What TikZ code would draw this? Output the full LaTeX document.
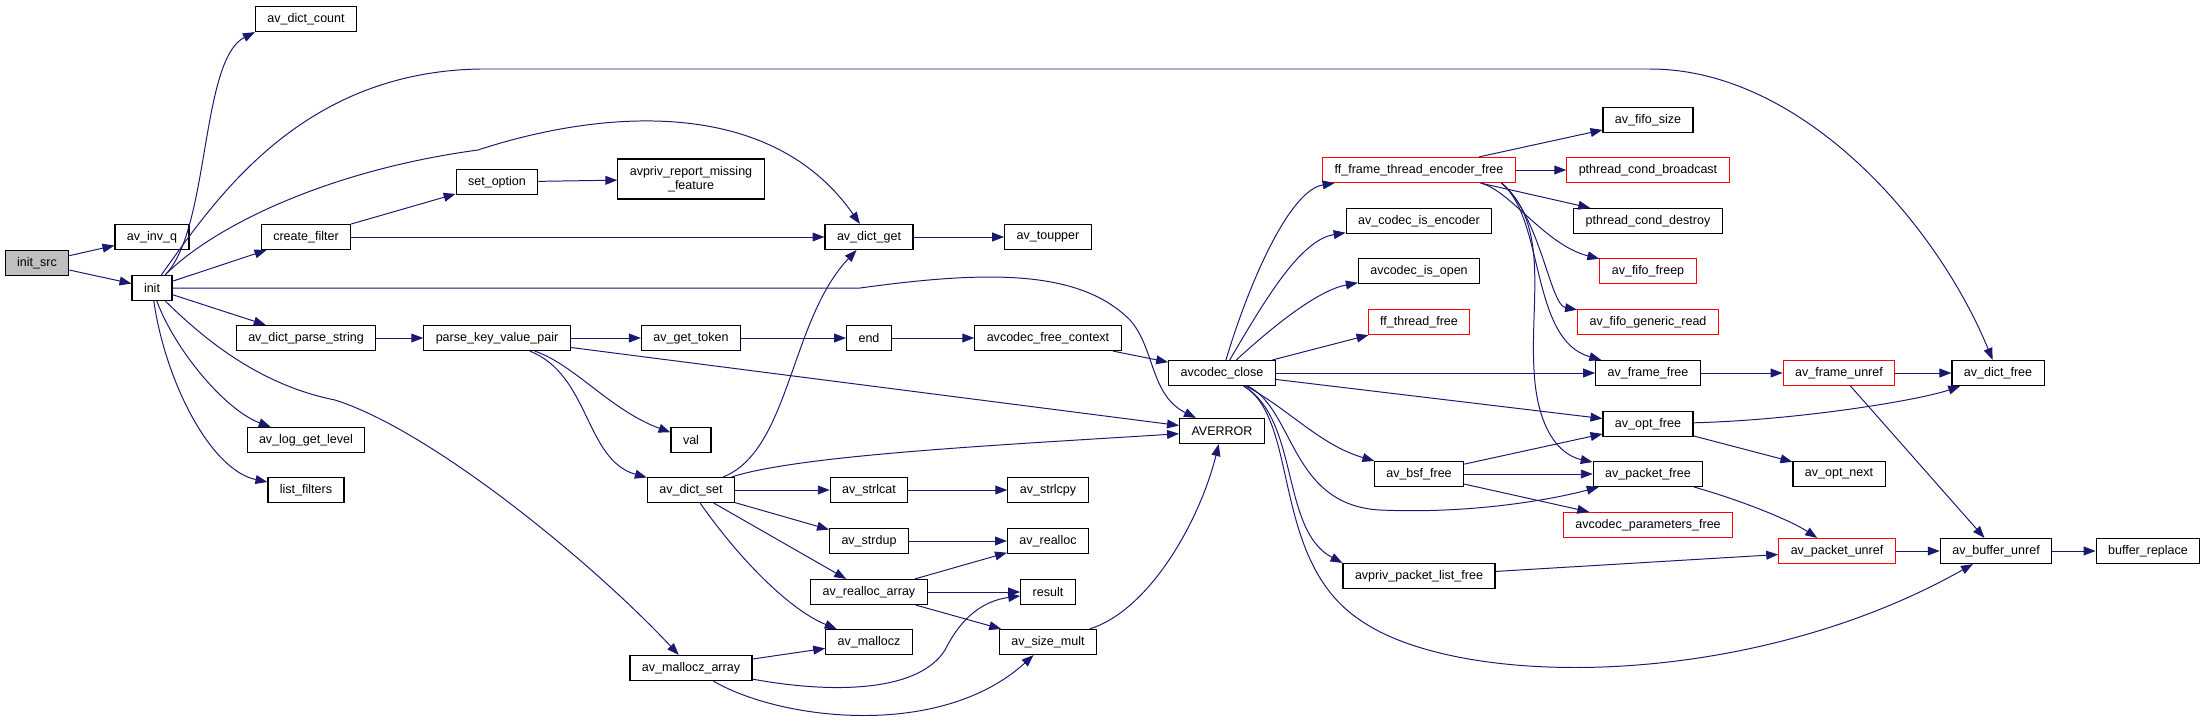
\documentclass[tikz,border=0pt]{standalone}
\usepackage{fontspec}
\setmainfont{Liberation Sans}
\usepackage{tikz}
\usetikzlibrary{arrows.meta}
\definecolor{edgeblue}{HTML}{191970}
\definecolor{callred}{HTML}{FF0000}
\definecolor{rootgrey}{HTML}{BFBFBF}
\newcommand{\callfont}{\fontsize{8.9}{9.8}\selectfont}
\tikzset{
  fn/.style={rectangle, draw=#1, fill=white, line width=0.8pt, align=center,
             inner xsep=8.5pt, inner ysep=0pt, minimum height=17.8pt, font=\callfont},
  fn/.default=black,
  root/.style={fn, fill=rootgrey},
  ar/.style={-{Triangle[length=8.5pt,width=6.3pt]}, line width=0.7pt, color=edgeblue},
}
\begin{document}
\begin{tikzpicture}[x=0.025cm, y=-0.025cm]
  \useasboundingbox (0,0) rectangle (2205,726);

  \node[root] (src) at (37,263) {init\_src};
  \node[fn] (inv) at (152,237) {av\_inv\_q};
  \node[fn] (init) at (152,288) {init};
  \node[fn] (cnt) at (306,19) {av\_dict\_count};
  \node[fn] (cf) at (306,237) {create\_filter};
  \node[fn] (dps) at (306,338) {av\_dict\_parse\_string};
  \node[fn] (llv) at (306,440) {av\_log\_get\_level};
  \node[fn] (lf) at (306,490) {list\_filters};
  \node[fn] (setopt) at (497,182) {set\_option};
  \node[fn] (pkv) at (497,338) {parse\_key\_value\_pair};
  \node[fn, minimum height=28.5pt] (arep) at (691,179) {avpriv\_report\_missing\\\_feature};
  \node[fn] (gtok) at (691,338) {av\_get\_token};
  \node[fn] (val) at (691,440) {val};
  \node[fn] (dset) at (691,490) {av\_dict\_set};
  \node[fn] (mza) at (691,668) {av\_mallocz\_array};
  \node[fn] (dget) at (869,237) {av\_dict\_get};
  \node[fn] (endn) at (869,338) {end};
  \node[fn] (scat) at (869,490) {av\_strlcat};
  \node[fn] (sdup) at (869,541) {av\_strdup};
  \node[fn] (rarr) at (869,592) {av\_realloc\_array};
  \node[fn] (mz) at (869,642) {av\_mallocz};
  \node[fn] (toup) at (1048,237) {av\_toupper};
  \node[fn] (afc) at (1048,338) {avcodec\_free\_context};
  \node[fn] (scpy) at (1048,490) {av\_strlcpy};
  \node[fn] (real) at (1048,541) {av\_realloc};
  \node[fn] (res) at (1048,592) {result};
  \node[fn] (smul) at (1048,642) {av\_size\_mult};
  \node[fn] (acl) at (1222,373) {avcodec\_close};
  \node[fn] (err) at (1222,431) {AVERROR};
  \node[fn=callred] (ffte) at (1419,170) {ff\_frame\_thread\_encoder\_free};
  \node[fn] (cie) at (1419,221) {av\_codec\_is\_encoder};
  \node[fn] (cio) at (1419,271) {avcodec\_is\_open};
  \node[fn=callred] (tfree) at (1419,322) {ff\_thread\_free};
  \node[fn] (bsf) at (1419,474) {av\_bsf\_free};
  \node[fn] (plf) at (1419,576) {avpriv\_packet\_list\_free};
  \node[fn] (fsize) at (1648,120) {av\_fifo\_size};
  \node[fn=callred] (pcb) at (1648,170) {pthread\_cond\_broadcast};
  \node[fn] (pcd) at (1648,221) {pthread\_cond\_destroy};
  \node[fn=callred] (ffreep) at (1648,271) {av\_fifo\_freep};
  \node[fn=callred] (fgr) at (1648,322) {av\_fifo\_generic\_read};
  \node[fn] (frfree) at (1648,373) {av\_frame\_free};
  \node[fn] (optfree) at (1648,424) {av\_opt\_free};
  \node[fn] (pktfree) at (1648,474) {av\_packet\_free};
  \node[fn=callred] (parfree) at (1648,525) {avcodec\_parameters\_free};
  \node[fn=callred] (frunref) at (1839,373) {av\_frame\_unref};
  \node[fn] (optnext) at (1839,474) {av\_opt\_next};
  \node[fn=callred] (pktunref) at (1837,551) {av\_packet\_unref};
  \node[fn] (dfree) at (1998,373) {av\_dict\_free};
  \node[fn] (bunref) at (1996,551) {av\_buffer\_unref};
  \node[fn] (brep) at (2148,551) {buffer\_replace};

  \draw[ar] (src) -- (inv);
  \draw[ar] (src) -- (init);
  \draw[ar] (init) .. controls (210,230) and (200,60) .. (cnt.south west);
  \draw[ar] (init) .. controls (215,200) and (300,72) .. (480,69) -- (1650,69) .. controls (1800,69) and (1935,220) .. (dfree);
  \draw[ar] (init) .. controls (215,225) and (330,170) .. (478,150) .. controls (600,110) and (770,95) .. (dget);
  \draw[ar] (init) -- (cf);
  \draw[ar] (init) -- (860,288) .. controls (990,270) and (1080,270) .. (1130,320) .. controls (1155,348) and (1150,395) .. (err);
  \draw[ar] (init) -- (dps);
  \draw[ar] (init) .. controls (175,350) and (225,410) .. (llv);
  \draw[ar] (init) .. controls (165,380) and (210,470) .. (lf);
  \draw[ar] (init) .. controls (205,340) and (260,385) .. (335,400) .. controls (430,430) and (590,560) .. (mza);
  \draw[ar] (cf) -- (setopt);
  \draw[ar] (cf) -- (dget);
  \draw[ar] (setopt) -- (arep);
  \draw[ar] (dget) -- (toup);
  \draw[ar] (dps) -- (pkv);
  \draw[ar] (pkv) -- (gtok);
  \draw[ar] (pkv) -- (err);
  \draw[ar] (pkv) .. controls (575,365) and (610,410) .. (val);
  \draw[ar] (pkv) .. controls (590,375) and (585,460) .. (dset);
  \draw[ar] (gtok) -- (endn);
  \draw[ar] (endn) -- (afc);
  \draw[ar] (afc) -- (acl);
  \draw[ar] (dset) .. controls (790,450) and (790,320) .. (dget);
  \draw[ar] (dset) .. controls (800,455) and (1000,445) .. (err);
  \draw[ar] (dset) -- (scat);
  \draw[ar] (dset) -- (sdup);
  \draw[ar] (dset) -- (rarr);
  \draw[ar] (dset) .. controls (740,560) and (790,610) .. (mz);
  \draw[ar] (scat) -- (scpy);
  \draw[ar] (sdup) -- (real);
  \draw[ar] (rarr) -- (real);
  \draw[ar] (rarr) -- (res);
  \draw[ar] (rarr) -- (smul);
  \draw[ar] (mza) -- (mz);
  \draw[ar] (mza) .. controls (840,695) and (920,690) .. (945,650) .. controls (965,610) and (990,600) .. (res);
  \draw[ar] (mza) .. controls (780,720) and (940,740) .. (smul);
  \draw[ar] (smul) .. controls (1150,610) and (1200,520) .. (err);
  \draw[ar] (acl) .. controls (1250,280) and (1290,190) .. (ffte);
  \draw[ar] (acl) .. controls (1265,300) and (1300,240) .. (cie);
  \draw[ar] (acl) .. controls (1280,320) and (1320,290) .. (cio);
  \draw[ar] (acl) -- (tfree);
  \draw[ar] (acl) -- (frfree);
  \draw[ar] (acl) -- (optfree);
  \draw[ar] (acl) .. controls (1290,410) and (1320,445) .. (bsf);
  \draw[ar] (acl) .. controls (1295,410) and (1290,505) .. (1380,510) .. controls (1470,514) and (1550,500) .. (pktfree);
  \draw[ar] (acl) .. controls (1300,420) and (1280,530) .. (plf.north west);
  \draw[ar] (acl) .. controls (1300,420) and (1270,560) .. (1360,620) .. controls (1460,690) and (1750,690) .. (bunref);
  \draw[ar] (ffte) -- (fsize);
  \draw[ar] (ffte) -- (pcb);
  \draw[ar] (ffte.-12) -- (pcd);
  \draw[ar] (ffte.-12) .. controls (1510,190) and (1545,245) .. (ffreep);
  \draw[ar] (ffte.-9) .. controls (1540,215) and (1550,305) .. (fgr);
  \draw[ar] (ffte.-9) .. controls (1545,220) and (1530,340) .. (frfree);
  \draw[ar] (ffte.-9) .. controls (1550,225) and (1530,300) .. (1534,370) .. controls (1537,430) and (1560,455) .. (pktfree);
  \draw[ar] (frfree) -- (frunref);
  \draw[ar] (frunref) -- (dfree);
  \draw[ar] (frunref) -- (bunref);
  \draw[ar] (optfree) .. controls (1800,420) and (1920,400) .. (dfree);
  \draw[ar] (optfree) -- (optnext);
  \draw[ar] (bsf) -- (optfree);
  \draw[ar] (bsf) -- (pktfree);
  \draw[ar] (bsf) -- (parfree);
  \draw[ar] (pktfree) .. controls (1740,500) and (1790,520) .. (pktunref);
  \draw[ar] (plf) -- (pktunref);
  \draw[ar] (pktunref) -- (bunref);
  \draw[ar] (bunref) -- (brep);
\end{tikzpicture}
\end{document}
